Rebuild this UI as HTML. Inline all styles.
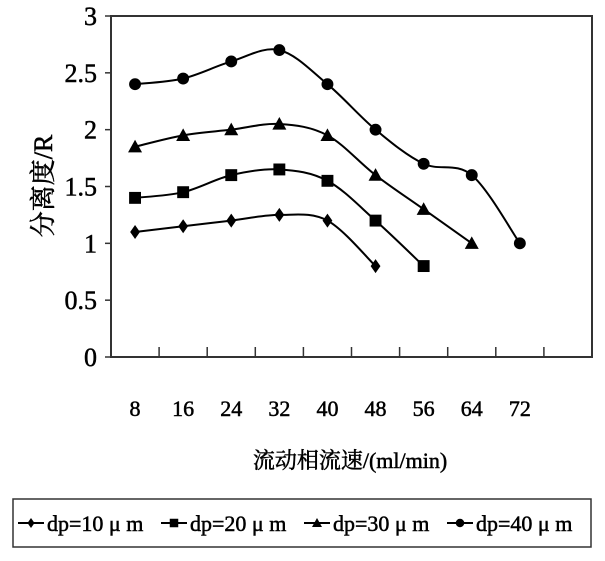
<!DOCTYPE html>
<html><head><meta charset="utf-8"><style>
body{margin:0;background:#fff;}
svg text{font-family:"Liberation Serif","Noto Serif CJK SC",serif;fill:#000;stroke:#000;stroke-width:0.5;}
</style></head><body>
<svg width="605" height="556" viewBox="0 0 605 556" xmlns="http://www.w3.org/2000/svg">
<rect x="111" y="16" width="481" height="341" fill="#fff" stroke="#333" stroke-width="2"/>
<g id="yt"></g><g id="xt"></g><g id="series"></g>
<text transform="translate(52,186) rotate(-90)" text-anchor="middle" font-size="26" style="font-family:'Liberation Serif','Noto Serif CJK SC',serif">分离度/R</text>
<text x="350" y="468" text-anchor="middle" font-size="22" style="font-family:'Liberation Serif','Noto Serif CJK SC',serif">流动相流速/(ml/min)</text>
<rect x="13" y="499" width="578" height="48" fill="#fff" stroke="#333" stroke-width="1.5"/>
<g id="legend"></g>
</svg>
<script>
const categories=["8","16","24","32","40","48","56","64","72",""];
const yTicks=[0,0.5,1,1.5,2,2.5,3];
const yTickLabels=["0","0.5","1","1.5","2","2.5","3"];
const seriesNames=["dp=10 μ m","dp=20 μ m","dp=30 μ m","dp=40 μ m"];
const s10=[1.1,1.15,1.2,1.25,1.2,0.8];
const s20=[1.4,1.45,1.6,1.65,1.55,1.2,0.8];
const s30=[1.85,1.95,2.0,2.05,1.95,1.6,1.3,1.0];
const s40=[2.4,2.45,2.6,2.7,2.4,2.0,1.7,1.6,1.0];
const markers=["diamond","square","triangle","circle"];
const NS="http://www.w3.org/2000/svg";
const L=111,R=592,T=16,B=357,bw=(R-L)/categories.length;
const x=i=>L+bw*(i+0.5), y=v=>B-(v/3)*(B-T);
function mk(tag,attrs,parent){const e=document.createElementNS(NS,tag);for(const k in attrs)e.setAttribute(k,attrs[k]);parent.appendChild(e);return e;}
const yt=document.getElementById('yt'),xt=document.getElementById('xt'),sg=document.getElementById('series'),lg=document.getElementById('legend');
yTicks.forEach((v,i)=>{
  const l=mk('line',{x1:L-6,x2:L,y1:y(v),y2:y(v),stroke:'#333','stroke-width':1.5},yt);
  
  
  const t=mk('text',{x:97,y:y(v)+9,'text-anchor':'end','font-size':26},yt);
  
  
  t.textContent=yTickLabels[i];
});
categories.forEach((c,i)=>{
  if(i>0){const l=mk('line',{x1:L+bw*i,x2:L+bw*i,y1:B-10,y2:B,stroke:'#333','stroke-width':1.5},xt);
  
  }
  const t=mk('text',{x:x(i),y:416,'text-anchor':'middle','font-size':22},xt);
  
  
  t.textContent=c;
});
function marker(type,cx,cy,p,sz){
  let e;
  if(type==='diamond')e=mk('polygon',{points:`${cx},${cy-sz} ${cx+sz*0.7},${cy} ${cx},${cy+sz} ${cx-sz*0.7},${cy}`},p);
  else if(type==='square')e=mk('rect',{x:cx-sz*0.85,y:cy-sz*0.85,width:sz*1.7,height:sz*1.7},p);
  else if(type==='triangle')e=mk('polygon',{points:`${cx},${cy-sz} ${cx+sz},${cy+sz*0.8} ${cx-sz},${cy+sz*0.8}`},p);
  else e=mk('circle',{cx:cx,cy:cy,r:sz*0.85},p);
  e.setAttribute('fill','#000');
  return e;
}
function smooth(pts){
  let d=`M${pts[0][0]},${pts[0][1]}`;
  for(let i=0;i<pts.length-1;i++){
    const p0=pts[Math.max(0,i-1)],p1=pts[i],p2=pts[i+1],p3=pts[Math.min(pts.length-1,i+2)];
    const c1=[p1[0]+(p2[0]-p0[0])/6,p1[1]+(p2[1]-p0[1])/6],c2=[p2[0]-(p3[0]-p1[0])/6,p2[1]-(p3[1]-p1[1])/6];
    d+=` C${c1[0]},${c1[1]} ${c2[0]},${c2[1]} ${p2[0]},${p2[1]}`;
  }
  return d;
}
[s10,s20,s30,s40].forEach((s,k)=>{
  const pts=s.map((v,i)=>[x(i),y(v)]);
  const p=mk('path',{d:smooth(pts),fill:'none',stroke:'#000','stroke-width':2},sg);
  
  
  pts.forEach(q=>{const m=marker(markers[k],q[0],q[1],sg,7);
    
    });
  const lx=18+k*143;
  const ll=mk('line',{x1:lx,x2:lx+26,y1:523,y2:523,stroke:'#000','stroke-width':2},lg);
  
  
  const lm=marker(markers[k],lx+13,523,lg,5);
  
  
  const lt=mk('text',{x:lx+29,y:531,'font-size':22},lg);
  
  
  lt.textContent=seriesNames[k];
});
</script>
</body></html>
